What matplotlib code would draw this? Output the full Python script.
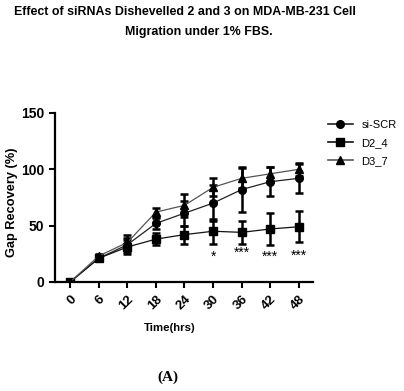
import numpy as np
import matplotlib.pyplot as plt
from matplotlib.lines import Line2D

# time points (hrs)
hours = [0, 6, 12, 18, 24, 30, 36, 42, 48]

# gap recovery (%) mean and error for each siRNA
scr_mean = [0, 21, 33, 52, 61, 70, 82, 89, 92]
scr_err = [0, 2, 6, 5, 11, 16, 20, 13, 13]
d24_mean = [0, 21, 31, 38, 42, 45, 44, 47, 49]
d24_err = [0, 2, 6, 5, 8, 11, 10, 14, 14]
d37_mean = [0, 23, 35, 62, 68, 84, 92, 96, 100]
d37_err = [0, 2, 7, 4, 10, 8, 9, 6, 6]

# significance marks
star_hours = [30, 36, 42, 48]
star_labels = ["*", "***", "***", "***"]
star_y = [22, 26, 22, 23]

series_names = ["si-SCR", "D2_4", "D3_7"]
series_markers = ["o", "s", "^"]
series_colors = ["#222222", "#111111", "#555555"]

plt.rcParams["font.family"] = ["Liberation Sans", "DejaVu Sans"]

fig = plt.figure(figsize=(4.04, 3.91), dpi=100)
ax = fig.add_axes([0.136, 0.279, 0.639, 0.432])

common = dict(capsize=3, elinewidth=1.8, capthick=1.8, linewidth=0.9,
              markersize=5.5, ecolor="black", markerfacecolor="black",
              markeredgecolor="black")
for mean, err, mk, col, name in zip([scr_mean, d24_mean, d37_mean],
                                    [scr_err, d24_err, d37_err],
                                    series_markers, series_colors, series_names):
    ax.errorbar(hours, mean, yerr=err, marker=mk, color=col, label=name, **common)

for h, lab, y in zip(star_hours, star_labels, star_y):
    ax.text(h, y, lab, ha="center", va="center", fontsize=10)

ax.set_xlim(-3.2, 51)
ax.set_ylim(0, 150)
ax.set_xticks(hours)
ax.set_yticks([0, 50, 100, 150])
ax.set_xticklabels([str(h) for h in hours], rotation=45, ha="right",
                   rotation_mode="anchor", fontweight="bold", fontsize=9.5)
ax.set_yticklabels(["0", "50", "100", "150"], fontweight="bold", fontsize=10)
ax.tick_params(axis="both", width=1.5, length=4, direction="out")
ax.tick_params(axis="x", pad=4)
for s in ["top", "right"]:
    ax.spines[s].set_visible(False)
for s in ["left", "bottom"]:
    ax.spines[s].set_linewidth(1.6)

ax.set_ylabel("Gap Recovery (%)", fontweight="bold", fontsize=9.2)
ax.yaxis.set_label_coords(-0.145, 0.47)
fig.text(0.421, 1 - 328 / 391, "Time(hrs)", ha="center", va="center",
         fontweight="bold", fontsize=8.2)

handles = [Line2D([], [], color=c, marker=m, markersize=5.5, linewidth=1.2,
                  markerfacecolor="black", markeredgecolor="black")
           for m, c in zip(series_markers, series_colors)]
ax.legend(handles, series_names, loc="upper left", bbox_to_anchor=(1.02, 1.02),
          frameon=False, fontsize=8, handlelength=2.2, labelspacing=0.75)

fig.text(0.458, 1 - 12 / 391,
         "Effect of siRNAs Dishevelled 2 and 3 on MDA-MB-231 Cell",
         ha="center", va="center", fontweight="bold", fontsize=8.9)
fig.text(0.493, 1 - 32 / 391, "Migration under 1% FBS.",
         ha="center", va="center", fontweight="bold", fontsize=8.9)
fig.text(0.415, 1 - 377 / 391, "(A)", ha="center", va="center",
         fontweight="bold", fontsize=11, family="Liberation Serif")

plt.savefig("out.png", dpi=100)
